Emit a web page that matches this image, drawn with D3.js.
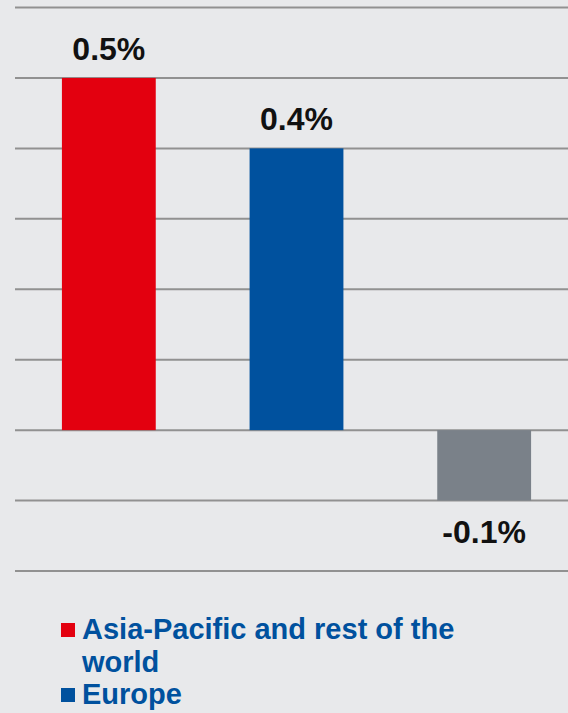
<!DOCTYPE html>
<html>
<head>
<meta charset="utf-8">
<script src="https://cdn.jsdelivr.net/npm/d3@7"></script>
<style>
  html, body { margin: 0; padding: 0; background: #e8e9eb; }
  svg { display: block; }
  text { font-family: "Liberation Sans", Arial, Helvetica, sans-serif; font-weight: bold; }
</style>
</head>
<body>
<svg id="chart" width="568" height="713"></svg>
<script>
// Regional contributions (percentage points)
const categories = ["asia", "europe", "other"];
const values = [0.5, 0.4, -0.1];
const valueLabels = ["0.5%", "0.4%", "-0.1%"];
const colors = ["#e3000f", "#00519e", "#7a8189"];
const gridTicks = [-0.2, -0.1, 0, 0.1, 0.2, 0.3, 0.4, 0.5, 0.6];
const legendLabels = ["Asia-Pacific and rest of the world", "Europe"];
const legendColors = ["#e3000f", "#00519e"];

const svg = d3.select("#chart");
const W = 568;

const x = d3.scaleBand()
  .domain(categories)
  .range([15, 578])
  .paddingInner(0.5)
  .paddingOuter(0.25);

const y = d3.scaleLinear()
  .domain([-0.2, 0.6])
  .range([571, 7.5]);

// Horizontal grid
svg.append("g")
  .selectAll("line")
  .data(gridTicks)
  .join("line")
  .attr("x1", 15)
  .attr("x2", W)
  .attr("y1", d => y(d))
  .attr("y2", d => y(d))
  .attr("stroke", "#919191")
  .attr("stroke-width", 2);

// Bars
svg.append("g")
  .selectAll("rect")
  .data(values)
  .join("rect")
  .attr("x", (d, i) => x(categories[i]))
  .attr("width", x.bandwidth())
  .attr("y", d => y(Math.max(0, d)))
  .attr("height", d => Math.abs(y(d) - y(0)))
  .attr("fill", (d, i) => colors[i]);

// Value labels
svg.append("g")
  .selectAll("text")
  .data(values)
  .join("text")
  .attr("x", (d, i) => x(categories[i]) + x.bandwidth() / 2)
  .attr("y", d => d >= 0 ? y(d) - 18 : y(d) + 42)
  .attr("text-anchor", "middle")
  .attr("font-size", 32)
  .attr("fill", "#111")
  .text((d, i) => valueLabels[i]);

// Legend
const legendLines = [
  ["Asia-Pacific and rest of the", "world"],
  ["Europe"]
];
let baseline = 639;
const legend = svg.append("g");
legendLabels.forEach((label, i) => {
  legend.append("rect")
    .attr("x", 61)
    .attr("y", baseline - 16)
    .attr("width", 14)
    .attr("height", 14)
    .attr("fill", legendColors[i]);
  const t = legend.append("text")
    .attr("x", 82)
    .attr("y", baseline)
    .attr("font-size", 29)
    .attr("fill", "#00519e");
  legendLines[i].forEach((ln, j) => {
    t.append("tspan")
      .attr("x", 82)
      .attr("dy", j === 0 ? 0 : 32.5)
      .text(ln);
  });
  baseline += 32.5 * legendLines[i].length;
});
</script>
</body>
</html>
